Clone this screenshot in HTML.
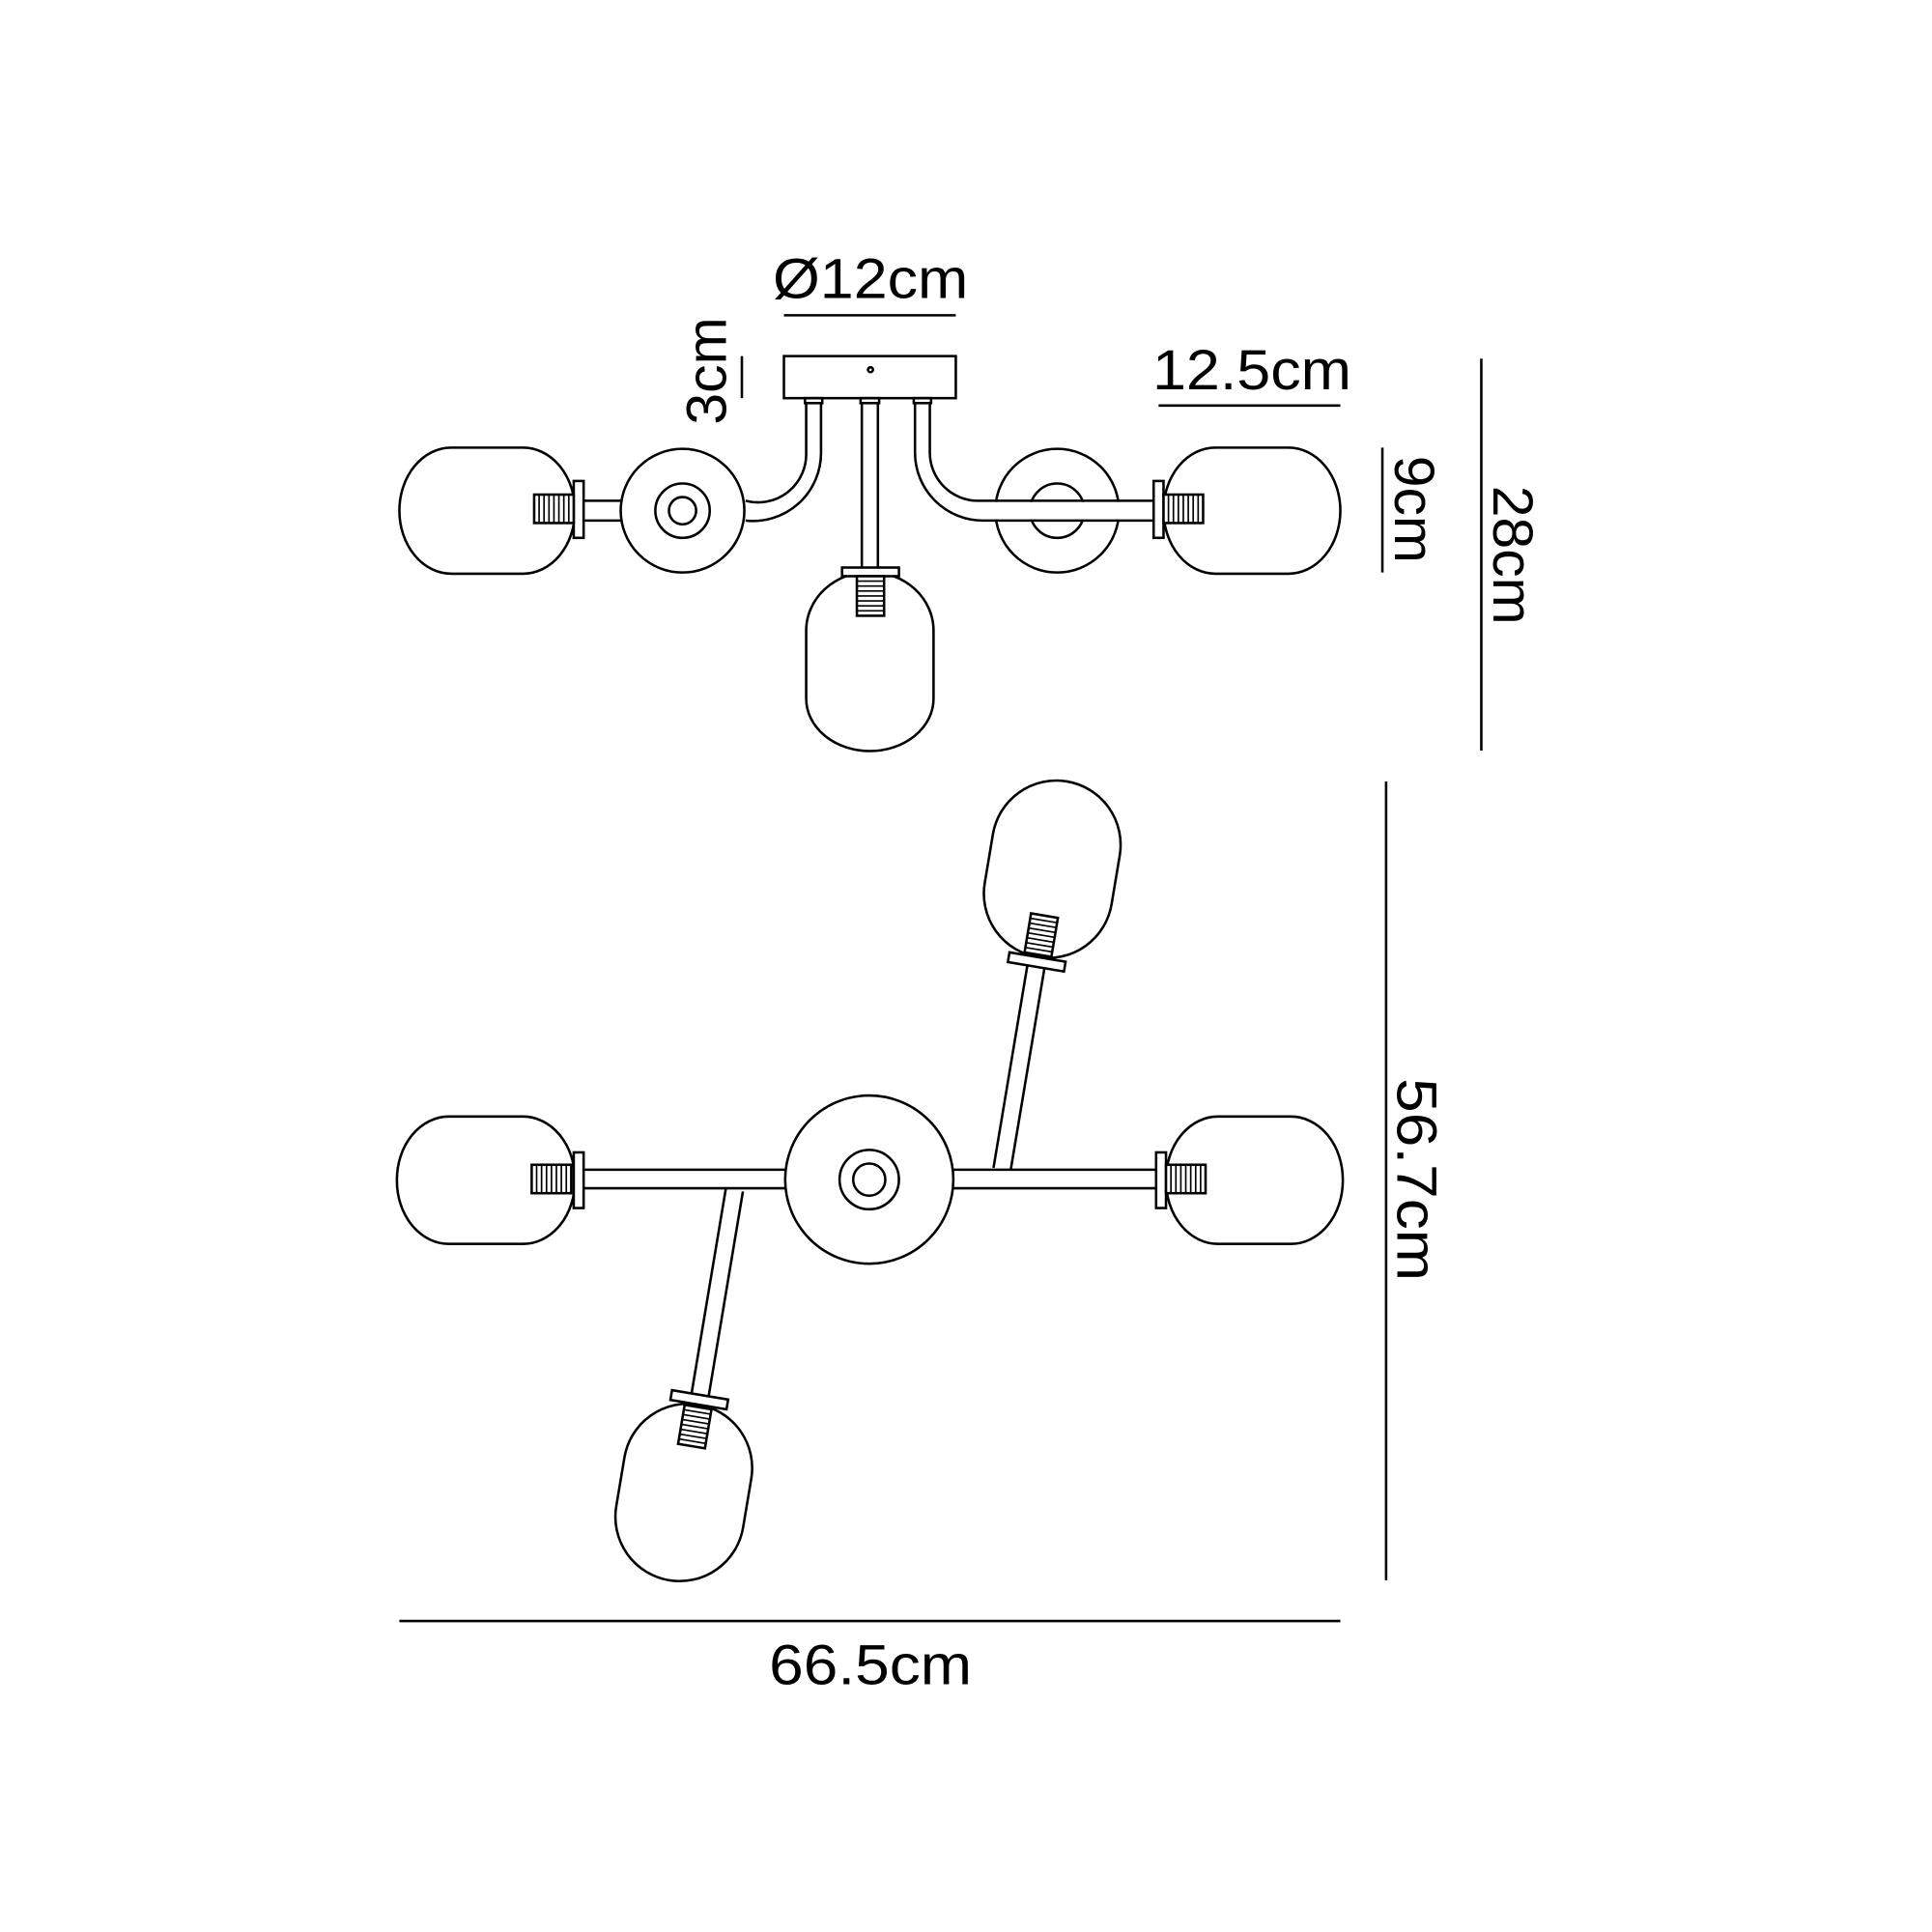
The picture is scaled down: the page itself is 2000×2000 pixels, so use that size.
<!DOCTYPE html>
<html><head><meta charset="utf-8"><style>
html,body{margin:0;padding:0;background:#fff}
svg{display:block}
text{font-family:"Liberation Sans",sans-serif;font-size:46px;fill:#000}
</style></head><body>
<svg width="2000" height="2000" viewBox="0 0 1562.5 1562.5" xmlns="http://www.w3.org/2000/svg">
<defs>
<g id="hsock"><rect x="0" y="0" width="32" height="23" fill="#fff" stroke="#000" stroke-width="2"/>
<path d="M4,0V23M8,0V23M12,0V23M16,0V23M20,0V23M24,0V23M28,0V23" stroke="#000" stroke-width="1.3"/></g>
<g id="vsock"><rect x="-11" y="0" width="22" height="32" fill="#fff" stroke="#000" stroke-width="2"/>
<path d="M-11,4H11M-11,8H11M-11,12H11M-11,16H11M-11,20H11M-11,24H11M-11,28H11" stroke="#000" stroke-width="1.3"/></g>
</defs>
<g fill="none" stroke="#000" stroke-width="2">
<line x1="634" y1="255" x2="773" y2="255"/>
<line x1="600" y1="288" x2="600" y2="322"/>
<line x1="937" y1="328" x2="1084" y2="328"/>
<line x1="1198" y1="290" x2="1198" y2="607"/>
<line x1="1118" y1="362" x2="1118" y2="463"/>
<rect x="634" y="288" width="139" height="34" fill="#fff"/>
<circle cx="704" cy="299" r="2"/>
<rect x="651" y="322" width="14" height="4"/><rect x="696" y="322" width="15" height="4"/><rect x="739" y="322" width="14" height="4"/>
<rect x="323" y="362" width="142" height="102" rx="42" ry="51"/>
<rect x="464" y="389" width="8" height="46" fill="#fff"/>
<line x1="472" y1="405" x2="503" y2="405"/><line x1="472" y1="421" x2="503" y2="421"/>
<circle cx="552" cy="413" r="50" fill="#fff"/>
<circle cx="552" cy="413" r="22"/><circle cx="552" cy="413" r="11"/>
<path d="M652,326V366A39,39 0 0 1 603,405"/>
<path d="M664,326V366A55,55 0 0 1 603,421"/>
<line x1="697" y1="326" x2="697" y2="459"/><line x1="710" y1="326" x2="710" y2="459"/>
<path d="M652,510 A51,47 0 0 1 755,510 V565 A51,42 0 0 1 652,565 Z"/>
<rect x="681" y="459" width="46" height="7" fill="#fff"/>
<circle cx="855" cy="413" r="50" fill="#fff"/>
<circle cx="855" cy="413" r="22"/>
<rect x="790" y="406" width="143" height="14" fill="#fff" stroke="none"/>
<path d="M740,326V366A55,55 0 0 0 795,421H933"/>
<path d="M752,326V366A39,39 0 0 0 791,405H933"/>
<rect x="941" y="362" width="143" height="102" rx="42" ry="51"/>
<rect x="933" y="389" width="8" height="46" fill="#fff"/>
<rect x="321" y="903" width="144" height="103" rx="42" ry="51"/>
<rect x="943" y="903" width="143" height="103" rx="42" ry="51"/>
<rect x="464" y="932" width="8" height="45" fill="#fff"/>
<rect x="935" y="932" width="8" height="45" fill="#fff"/>
<line x1="472" y1="946" x2="935" y2="946"/><line x1="472" y1="961" x2="935" y2="961"/>
<circle cx="703" cy="954" r="68" fill="#fff"/>
<circle cx="703" cy="954" r="24"/><circle cx="703" cy="954" r="13"/>
<g transform="translate(851,703) rotate(9.5)">
<path d="M-52,-20 A52,52 0 0 1 52,-20 V20 A52,52 0 0 1 -52,20 Z" fill="#fff"/>
<line x1="-7" y1="80" x2="-7" y2="246"/><line x1="7" y1="80" x2="7" y2="246"/>
<rect x="-23" y="72" width="46" height="8" fill="#fff"/>
</g>
<g transform="translate(553,1207) rotate(9.5)">
<path d="M-52,-20 A52,52 0 0 1 52,-20 V20 A52,52 0 0 1 -52,20 Z" fill="#fff"/>
<line x1="-7" y1="-80" x2="-7" y2="-248"/><line x1="7" y1="-80" x2="7" y2="-248"/>
<rect x="-23" y="-80" width="46" height="8" fill="#fff"/>
</g>
<line x1="1121" y1="632" x2="1121" y2="1278"/>
<line x1="323" y1="1311" x2="1084" y2="1311"/>
</g>
<use href="#hsock" x="432" y="400"/>
<use href="#hsock" x="941" y="400"/>
<use href="#hsock" x="430" y="942"/>
<use href="#hsock" x="943" y="942"/>
<use href="#vsock" x="704" y="466"/>
<g transform="translate(851,703) rotate(9.5)"><use href="#vsock" x="0" y="38"/></g>
<g transform="translate(553,1207) rotate(9.5)"><use href="#vsock" x="0" y="-70"/></g>
<text x="625" y="241" textLength="158" lengthAdjust="spacingAndGlyphs">Ø12cm</text>
<text x="932" y="315" textLength="161" lengthAdjust="spacingAndGlyphs">12.5cm</text>
<text x="622" y="1362" textLength="164" lengthAdjust="spacingAndGlyphs">66.5cm</text>
<text transform="translate(587,300) rotate(-90)" text-anchor="middle">3cm</text>
<text transform="translate(1128,412) rotate(90)" text-anchor="middle">9cm</text>
<text transform="translate(1208,449) rotate(90)" text-anchor="middle">28cm</text>
<text transform="translate(1130,954) rotate(90)" x="-82" textLength="164" lengthAdjust="spacingAndGlyphs">56.7cm</text>
</svg>
</body></html>
